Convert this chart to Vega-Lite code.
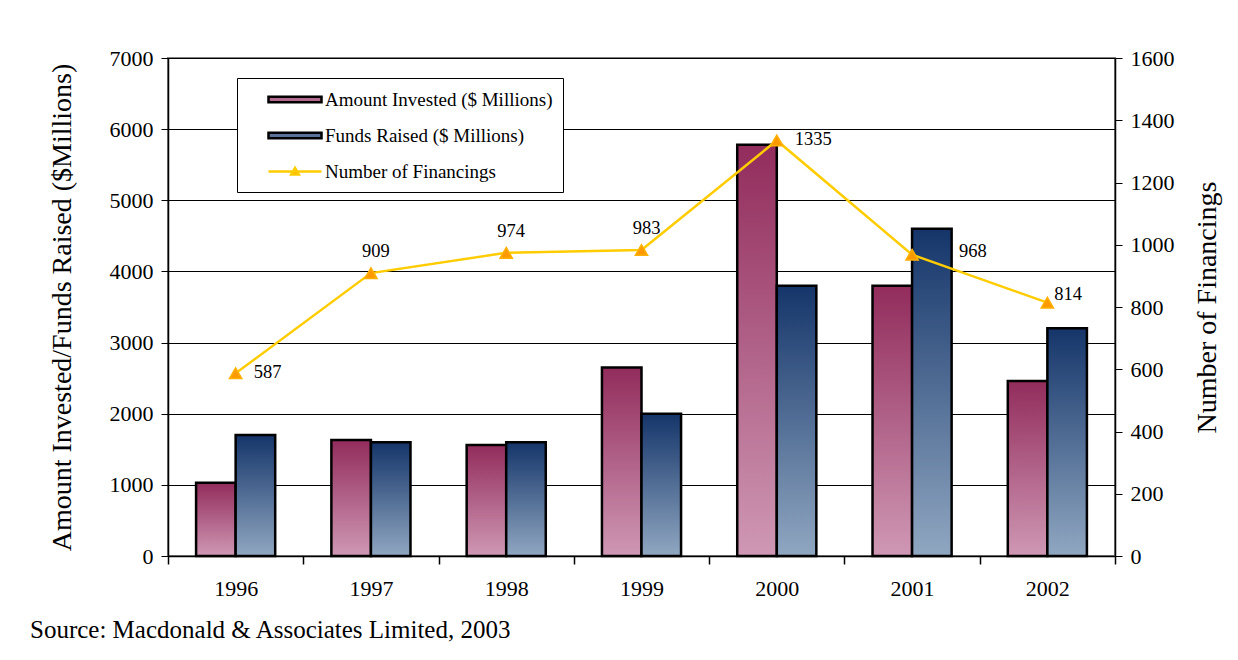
{
  "$schema": "https://vega.github.io/schema/vega-lite/v6.json",
  "autosize": {"type": "none"},
  "width": 947,
  "height": 498,
  "padding": {"left": 168, "top": 58, "right": 123, "bottom": 104},
  "background": "white",
  "config": {
    "font": "Liberation Serif",
    "view": {"stroke": "#808080", "strokeWidth": 2},
    "axis": {"labelFont": "Liberation Serif", "titleFont": "Liberation Serif", "labelColor": "black", "titleColor": "black", "domainColor": "black", "tickColor": "black", "labelFontSize": 22, "titleFontSize": 28, "titleFontWeight": "normal"},
    "legend": {
      "title": null, "orient": "none", "legendX": 69, "legendY": 20,
      "strokeColor": "black", "fillColor": "white", "padding": 10, "rowPadding": 14, "symbolOffset": 36.5,
      "symbolSize": 400, "symbolStrokeWidth": 2.5, "symbolOpacity": 1,
      "labelFont": "Liberation Serif", "labelFontSize": 19, "labelColor": "black", "labelOffset": 18.5, "labelLimit": 400
    }
  },
  "title": {"text": "Source: Macdonald & Associates Limited, 2003", "orient": "bottom", "anchor": "start", "frame": "group", "dx": -138, "offset": 19, "fontSize": 25, "fontWeight": "normal", "font": "Liberation Serif", "color": "black"},
  "data": {"values": [
    {"year": "1996", "invested": 1030, "funds": 1700, "financings": 587},
    {"year": "1997", "invested": 1630, "funds": 1600, "financings": 909},
    {"year": "1998", "invested": 1560, "funds": 1600, "financings": 974},
    {"year": "1999", "invested": 2650, "funds": 2000, "financings": 983},
    {"year": "2000", "invested": 5780, "funds": 3800, "financings": 1335},
    {"year": "2001", "invested": 3800, "funds": 4600, "financings": 968},
    {"year": "2002", "invested": 2460, "funds": 3200, "financings": 814}
  ]},
  "encoding": {
    "x": {"field": "year", "type": "nominal", "scale": {"paddingInner": 0, "paddingOuter": 0},
      "axis": {"title": null, "labelAngle": 0, "tickBand": "extent", "tickSize": 8, "labelPadding": 14, "domainWidth": 1.5, "tickWidth": 1.5}}
  },
  "layer": [
    {
      "transform": [{"fold": ["invested", "funds"], "as": ["series", "amount"]}],
      "encoding": {
        "xOffset": {"field": "series", "type": "nominal", "scale": {"domain": ["invested", "funds"], "paddingInner": 0, "paddingOuter": 0.71}},
        "y": {"field": "amount", "type": "quantitative", "scale": {"domain": [0, 7000], "nice": false},
          "axis": {"title": "Amount Invested/Funds Raised ($Millions)", "format": "d", "values": [0, 1000, 2000, 3000, 4000, 5000, 6000, 7000], "grid": true, "gridColor": "black", "gridWidth": 1, "gridOpacity": 1, "tickSize": 7, "labelPadding": 8, "titlePadding": 33, "domainWidth": 1.5}}
      },
      "layer": [
        {
          "transform": [{"filter": "datum.series === 'invested'"}],
          "mark": {"type": "bar", "stroke": "black", "strokeWidth": 2.5,
            "fill": {"gradient": "linear", "x1": 0, "y1": 0, "x2": 0, "y2": 1, "stops": [{"offset": 0, "color": "#922c5c"}, {"offset": 1, "color": "#cf98b4"}]}}
        },
        {
          "transform": [{"filter": "datum.series === 'funds'"}],
          "mark": {"type": "bar", "stroke": "black", "strokeWidth": 2.5,
            "fill": {"gradient": "linear", "x1": 0, "y1": 0, "x2": 0, "y2": 1, "stops": [{"offset": 0, "color": "#15356a"}, {"offset": 1, "color": "#90a7c1"}]}}
        }
      ]
    },
    {
      "encoding": {
        "y": {"field": "financings", "type": "quantitative", "scale": {"domain": [0, 1600], "nice": false},
          "axis": {"orient": "right", "title": "Number of Financings", "titleAngle": 270, "format": "d", "values": [0, 200, 400, 600, 800, 1000, 1200, 1400, 1600], "grid": false, "tickSize": 7, "labelPadding": 8, "titlePadding": 47, "domainWidth": 1.5}}
      },
      "layer": [
        {"mark": {"type": "line", "stroke": "#FFCC00", "strokeWidth": 2.5}},
        {"mark": {"type": "point", "shape": "triangle-up", "filled": true, "fill": "#FF9900", "stroke": "#FFB000", "strokeWidth": 1.5, "size": 150, "opacity": 1}},
        {
          "transform": [{"filter": "datum.year === '1997' || datum.year === '1998' || datum.year === '1999'"}],
          "mark": {"type": "text", "fontSize": 18.5, "font": "Liberation Serif", "dx": 5, "dy": -22, "color": "black"},
          "encoding": {"text": {"field": "financings", "type": "quantitative", "format": "d"}}
        },
        {
          "transform": [{"filter": "datum.year === '1996' || datum.year === '2000'"}],
          "mark": {"type": "text", "fontSize": 18.5, "font": "Liberation Serif", "align": "left", "dx": 18, "dy": -1, "color": "black"},
          "encoding": {"text": {"field": "financings", "type": "quantitative", "format": "d"}}
        },
        {
          "transform": [{"filter": "datum.year === '2001'"}],
          "mark": {"type": "text", "fontSize": 18.5, "font": "Liberation Serif", "align": "left", "dx": 47, "dy": -4, "color": "black"},
          "encoding": {"text": {"field": "financings", "type": "quantitative", "format": "d"}}
        },
        {
          "transform": [{"filter": "datum.year === '2002'"}],
          "mark": {"type": "text", "fontSize": 18.5, "font": "Liberation Serif", "align": "left", "dx": 7, "dy": -9, "color": "black"},
          "encoding": {"text": {"field": "financings", "type": "quantitative", "format": "d"}}
        },
        {
          "transform": [{"fold": ["invested", "funds", "financings"], "as": ["key", "kval"]}],
          "mark": {"type": "point", "opacity": 0, "filled": true},
          "encoding": {
            "fill": {"field": "key", "type": "nominal",
              "scale": {"domain": ["invested", "funds", "financings"], "range": ["#b36a8e", "#5b7399", "#FF9900"]},
              "legend": {"labelExpr": "datum.value === 'invested' ? 'Amount Invested ($ Millions)' : datum.value === 'funds' ? 'Funds Raised ($ Millions)' : 'Number of Financings'"}},
            "stroke": {"field": "key", "type": "nominal",
              "scale": {"domain": ["invested", "funds", "financings"], "range": ["black", "black", "#FFCC00"]},
              "legend": {"labelExpr": "datum.value === 'invested' ? 'Amount Invested ($ Millions)' : datum.value === 'funds' ? 'Funds Raised ($ Millions)' : 'Number of Financings'"}},
            "shape": {"field": "key", "type": "nominal",
              "scale": {"domain": ["invested", "funds", "financings"], "range": ["M-2.65,-0.275H2.65V0.275H-2.65Z", "M-2.65,-0.275H2.65V0.275H-2.65Z", "M-2.65,0H2.65M0,-0.36L0.38,0.3L-0.38,0.3Z"]},
              "legend": {"labelExpr": "datum.value === 'invested' ? 'Amount Invested ($ Millions)' : datum.value === 'funds' ? 'Funds Raised ($ Millions)' : 'Number of Financings'"}}
          }
        }
      ]
    }
  ],
  "resolve": {"scale": {"y": "independent"}}
}
